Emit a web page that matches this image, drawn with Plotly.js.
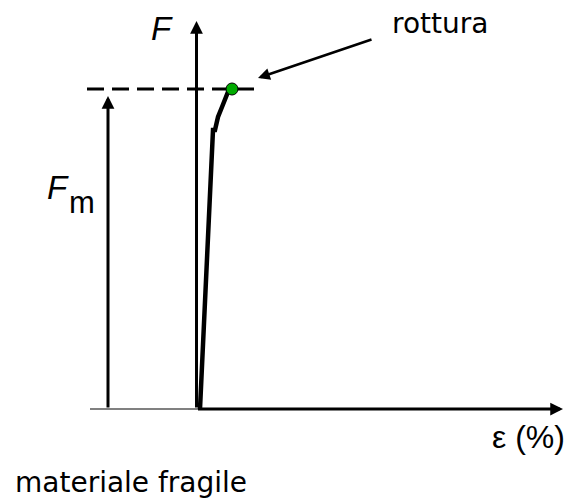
<!DOCTYPE html>
<html>
<head>
<meta charset="utf-8">
<script src="https://cdn.plot.ly/plotly-3.0.1.min.js"></script>
<style>html,body{margin:0;padding:0;background:#fff;}#chart{width:567px;height:503px;}</style>
</head>
<body>
<div id="chart"></div>
<script>
// Data (units: strain in arbitrary %, force in arbitrary units)
var strain = [0.2, 1.5, 1.7, 2.0, 2.4, 2.7, 3.0, 3.4];
var force  = [0.0, 27.9, 27.9, 29.2, 30.2, 31.1, 31.7, 32.0];
var Fm = 32.0;
var ruptureStrain = [3.4];
var ruptureForce = [32.0];
var labels = {F: 'F', Fm: 'F', sub: 'm', eps: 'ε (%)', rupture: 'rottura', title: 'materiale fragile'};

var FONT = 'Liberation Sans, Arial, sans-serif';
var WIDE = 'DejaVu Sans, sans-serif';

var traces = [
  { // grey baseline to the left
    x: [-10.8, 0], y: [0, 0], mode: 'lines',
    line: {color: '#808080', width: 2}, hoverinfo: 'skip'
  },
  { // dashed Fm level
    x: [-11.1, 5.7], y: [Fm, Fm], mode: 'lines',
    line: {color: '#000', width: 3, dash: '17px,8px'}, hoverinfo: 'skip'
  },
  { // curve
    x: strain, y: force, mode: 'lines',
    line: {color: '#000', width: 4.5}, hoverinfo: 'skip'
  },
  { // rupture point
    x: ruptureStrain, y: ruptureForce, mode: 'markers',
    marker: {color: '#00aa00', size: 12, line: {color: '#000', width: 1}}, hoverinfo: 'skip'
  }
];

function arrow(x, y, ax, ay, w, size) {
  return {x: x, y: y, ax: ax, ay: ay, xref: 'x', yref: 'y', axref: 'x', ayref: 'y',
    text: '', showarrow: true, arrowhead: 2, arrowsize: size, arrowwidth: w,
    arrowcolor: '#000', standoff: 0, startstandoff: 0};
}

var annotations = [
  arrow(-0.15, 38.8, -0.15, 0, 3, 0.85),      // y axis
  arrow(36.5, 0, -0.15, 0, 3, 0.85),          // x axis
  arrow(-9.0, 31.3, -9.0, 0, 3, 0.85),        // Fm arrow
  arrow(6.0, 33.1, 17.5, 37.0, 2.5, 0.95),    // rottura arrow
  {x: -3.6, y: 38.05, xref: 'x', yref: 'y', text: '<i>' + labels.F + '</i>', showarrow: false,
    font: {family: FONT, size: 33, color: '#000'}},
  {x: -14.0, y: 22.2, xref: 'x', yref: 'y', text: '<i>' + labels.Fm + '</i>', showarrow: false,
    font: {family: FONT, size: 33, color: '#000'}},
  {x: -11.6, y: 20.7, xref: 'x', yref: 'y', text: labels.sub, showarrow: false,
    font: {family: FONT, size: 31, color: '#000'}},
  {x: 24.2, y: 38.6, xref: 'x', yref: 'y', text: labels.rupture, showarrow: false,
    font: {family: WIDE, size: 28, color: '#000'}},
  {x: 36.85, y: -2.8, xref: 'x', yref: 'y', xanchor: 'right', text: labels.eps, showarrow: false,
    font: {family: FONT, size: 32, color: '#000'}},
  {x: -6.75, y: -7.3, xref: 'x', yref: 'y', text: labels.title, showarrow: false,
    font: {family: WIDE, size: 28, color: '#000'}}
];

var layout = {
  width: 567, height: 503,
  margin: {l: 0, r: 0, t: 0, b: 0},
  paper_bgcolor: '#fff', plot_bgcolor: '#fff',
  showlegend: false,
  xaxis: {range: [-19.8, 36.9], visible: false, fixedrange: true},
  yaxis: {range: [-9.4, 40.9], visible: false, fixedrange: true},
  annotations: annotations
};

Plotly.newPlot('chart', traces, layout, {staticPlot: true, displayModeBar: false});
</script>
</body>
</html>
